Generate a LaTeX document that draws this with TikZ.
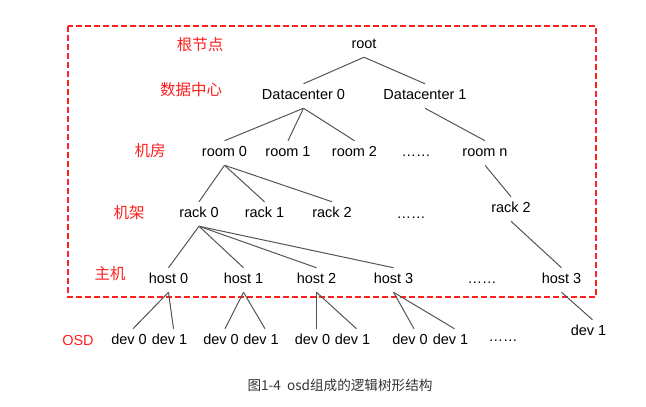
\documentclass[tikz,border=0pt]{standalone}
\usepackage{fontspec}
\setmainfont{Liberation Sans}
\newfontfamily\cjk{Noto Sans CJK SC}
\definecolor{lblred}{RGB}{255,32,32}
\definecolor{edgegray}{RGB}{85,85,85}
\definecolor{capgray}{RGB}{51,51,51}
\begin{document}
\begin{tikzpicture}[x=1pt,y=-1pt,
  tn/.style={font=\fontsize{14.5}{16}\selectfont, text height=10.5pt, text depth=3pt, inner xsep=1pt, inner ysep=5.3pt},
  lbl/.style={font=\cjk\fontsize{15.5}{17}\selectfont, text=lblred, inner sep=0pt},
  edge/.style={draw=edgegray, line width=1pt},
  frame/.style={draw=lblred, line width=2pt, dash pattern=on 6pt off 3pt}]
\useasboundingbox (0,0) rectangle (646,407);
\draw[frame] (68,26) rectangle (596,297);
% level labels
\node[lbl] (l0) at (200,44.5) {根节点};
\node[lbl] (l1) at (191,90) {数据中心};
\node[lbl] (l2) at (150,151) {机房};
\node[lbl] (l3) at (129,212.5) {机架};
\node[lbl] (l4) at (110,274) {主机};
\node[tn, text=lblred] (l5) at (78,341.5) {OSD};
% tree nodes
\node[tn] (root) at (364,45) {root};
\node[tn] (dc0) at (303.5,96) {Datacenter 0};
\node[tn] (dc1) at (425,96) {Datacenter 1};
\node[tn] (rm0) at (224.5,153) {room 0};
\node[tn] (rm1) at (288,153) {room 1};
\node[tn] (rm2) at (354.5,153) {room 2};
\node[tn] (rmd) at (416,153) {……};
\node[tn] (rmn) at (485,153) {room n};
\node[tn] (rk0) at (199,214) {rack 0};
\node[tn] (rk1) at (264.5,214) {rack 1};
\node[tn] (rk2) at (332,214) {rack 2};
\node[tn] (rkd) at (411,215) {……};
\node[tn] (rk2b) at (511,209) {rack 2};
\node[tn] (h0) at (168.5,280) {host 0};
\node[tn] (h1) at (243.5,280) {host 1};
\node[tn] (h2) at (316.5,280) {host 2};
\node[tn] (h3) at (393.5,280) {host 3};
\node[tn] (hd) at (482,280) {……};
\node[tn] (h3b) at (561.5,280) {host 3};
\node[tn] (d00) at (129,341) {dev 0};
\node[tn] (d01) at (169.5,341) {dev 1};
\node[tn] (d10) at (221,341) {dev 0};
\node[tn] (d11) at (261,341) {dev 1};
\node[tn] (d20) at (312.5,341) {dev 0};
\node[tn] (d21) at (352.5,341) {dev 1};
\node[tn] (d30) at (410,341) {dev 0};
\node[tn] (d31) at (450.5,341) {dev 1};
\node[tn] (dd) at (503,337.5) {……};
\node[tn] (d41) at (588.5,332) {dev 1};
% caption
\node[font=\cjk\fontsize{13.6}{15}\selectfont, text=capgray, inner sep=0pt] (cap) at (340,385) {图1-4\ \ osd组成的逻辑树形结构};
% edges
\draw[edge] (root.south) -- (dc0.north);
\draw[edge] (root.south) -- (dc1.north);
\draw[edge] (dc0.south) -- (rm0.north);
\draw[edge] (dc0.south) -- (rm1.north);
\draw[edge] (dc0.south) -- (rm2.north);
\draw[edge] (dc1.south) -- (rmn.north);
\draw[edge] (rm0.south) -- (rk0.north);
\draw[edge] (rm0.south) -- (rk1.north);
\draw[edge] (rm0.south) -- (rk2.north);
\draw[edge] (rmn.south) -- (rk2b.north);
\draw[edge] (rk0.south) -- (h0.north);
\draw[edge] (rk0.south) -- (h1.north);
\draw[edge] (rk0.south) -- (h2.north);
\draw[edge] (rk0.south) -- (h3.north);
\draw[edge] (rk2b.south) -- (h3b.north);
\draw[edge] (h0.south) -- ([xshift=4pt]d00.north);
\draw[edge] (h0.south) -- ([xshift=4pt]d01.north);
\draw[edge] (h1.south) -- ([xshift=4pt]d10.north);
\draw[edge] (h1.south) -- ([xshift=4pt]d11.north);
\draw[edge] (h2.south) -- ([xshift=4pt]d20.north);
\draw[edge] (h2.south) -- ([xshift=4pt]d21.north);
\draw[edge] (h3.south) -- ([xshift=4pt]d30.north);
\draw[edge] (h3.south) -- ([xshift=4pt]d31.north);
\draw[edge] (h3b.south) -- ([xshift=4pt]d41.north);
\end{tikzpicture}
\end{document}
